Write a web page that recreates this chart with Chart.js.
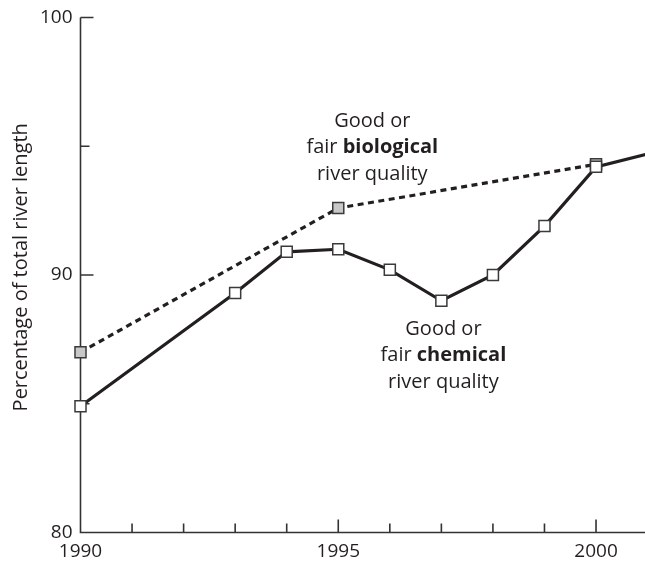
<!DOCTYPE html>
<html>
<head>
<meta charset="utf-8">
<script src="https://cdn.jsdelivr.net/npm/chart.js@4.4.1/dist/chart.umd.min.js"></script>
<style>
  html, body { margin: 0; padding: 0; background: #fff; }
  #divCanvas { width: 645px; height: 563px; }
</style>
</head>
<body>
<div id="divCanvas"><canvas id="graficoRios" width="645" height="563"></canvas></div>
<script>
// dados
var anosQuimica = [1990, 1993, 1994, 1995, 1996, 1997, 1998, 1999, 2000, 2001];
var valoresQuimica = [84.9, 89.3, 90.9, 91.0, 90.2, 89.0, 90.0, 91.9, 94.2, 94.7];
var anosBiologica = [1990, 1995, 2000];
var valoresBiologica = [87.0, 92.6, 94.3];

var yTicks = [80, 85, 90, 95, 100];
var yRotulos = [80, 90, 100];
var xTicks = [1990, 1991, 1992, 1993, 1994, 1995, 1996, 1997, 1998, 1999, 2000];
var xRotulos = [1990, 1995, 2000];

var tituloY = "Percentage of total river length";
var textoBiologica = [["Good or", ""], ["fair ", "biological"], ["river quality", ""]];
var textoQuimica = [["Good or", ""], ["fair ", "chemical"], ["river quality", ""]];

var fonte = "'Open Sans', sans-serif";
var corLinha = "#231f20";

function pontos(xs, ys) {
	var r = [];
	for (var i = 0; i < xs.length; i++) {
		r.push({x: xs[i], y: ys[i]});
	}
	return r;
}

// eixos com ticks para dentro
var eixosPlugin = {
	id: "eixos",
	beforeDatasetsDraw: function(chart) {
		var ctx = chart.ctx;
		var xs = chart.scales.x, ys = chart.scales.y;
		var a = chart.chartArea;
		ctx.save();
		ctx.strokeStyle = "#333";
		ctx.lineWidth = 1.6;
		ctx.beginPath();
		ctx.moveTo(a.left, a.top);
		ctx.lineTo(a.left, a.bottom);
		ctx.lineTo(chart.width, a.bottom);
		for (var i = 0; i < yTicks.length; i++) {
			var py = ys.getPixelForValue(yTicks[i]);
			var len = yTicks[i] % 10 === 0 ? 13 : 9;
			ctx.moveTo(a.left, py);
			ctx.lineTo(a.left + len, py);
		}
		for (var j = 0; j < xTicks.length; j++) {
			var px = xs.getPixelForValue(xTicks[j]);
			var l = xTicks[j] % 5 === 0 ? 13 : 9;
			ctx.moveTo(px, a.bottom);
			ctx.lineTo(px, a.bottom - l);
		}
		ctx.stroke();
		ctx.restore();
	},
	afterDraw: function(chart) {
		var ctx = chart.ctx;
		var xs = chart.scales.x, ys = chart.scales.y;
		ctx.save();
		ctx.fillStyle = corLinha;
		ctx.textBaseline = "middle";

		// titulo do eixo y
		ctx.save();
		ctx.translate(21, ys.getPixelForValue(90.3));
		ctx.rotate(-Math.PI / 2);
		ctx.textAlign = "center";
		ctx.font = "20px " + fonte;
		ctx.fillText(tituloY, 0, 0);
		ctx.restore();

		function bloco(linhas, cx, cy) {
			for (var k = 0; k < linhas.length; k++) {
				var y = cy + k * 26.7;
				ctx.font = "20px " + fonte;
				var w1 = ctx.measureText(linhas[k][0]).width;
				ctx.font = "bold 20px " + fonte;
				var w2 = ctx.measureText(linhas[k][1]).width;
				var x0 = cx - (w1 + w2) / 2;
				ctx.textAlign = "left";
				ctx.font = "20px " + fonte;
				ctx.fillText(linhas[k][0], x0, y);
				ctx.font = "bold 20px " + fonte;
				ctx.fillText(linhas[k][1], x0 + w1, y);
			}
		}
		bloco(textoBiologica, xs.getPixelForValue(1995.66), ys.getPixelForValue(95.98));
		bloco(textoQuimica, xs.getPixelForValue(1997.04), ys.getPixelForValue(87.9));
		ctx.restore();
	}
};

var raiosQuimica = [];
for (var i = 0; i < anosQuimica.length; i++) {
	raiosQuimica.push(anosQuimica[i] > 2000 ? 0 : 7.8);
}

var grafico = new Chart(document.getElementById("graficoRios"), {
	type: "line",
	data: {
		datasets: [
			{
				label: "chemical",
				data: pontos(anosQuimica, valoresQuimica),
				borderColor: corLinha,
				borderWidth: 3.2,
				pointStyle: "rect",
				pointRadius: raiosQuimica,
				pointBackgroundColor: "#fff",
				pointBorderColor: "#3a3a3a",
				pointBorderWidth: 1.5,
				tension: 0,
				clip: false
			},
			{
				label: "biological",
				data: pontos(anosBiologica, valoresBiologica),
				borderColor: corLinha,
				borderWidth: 3.2,
				borderDash: [6, 4.5],
				pointStyle: "rect",
				pointRadius: 7.8,
				pointBackgroundColor: "#c8c8c8",
				pointBorderColor: "#3a3a3a",
				pointBorderWidth: 1.5,
				tension: 0,
				clip: false
			}
		]
	},
	options: {
		responsive: false,
		animation: false,
		layout: { autoPadding: false, padding: { top: 17.5, right: 0, left: 0, bottom: 0 } },
		plugins: { legend: { display: false }, tooltip: { enabled: false } },
		scales: {
			x: {
				type: "linear",
				min: 1990,
				max: 2000.95,
				border: { display: false },
				grid: { display: false, drawTicks: false },
				ticks: {
					stepSize: 1,
					includeBounds: false,
					autoSkip: false,
					maxRotation: 0,
					padding: 8,
					color: corLinha,
					font: { family: fonte, size: 19 },
					callback: function(v) { return xRotulos.indexOf(v) >= 0 ? String(v) : ""; }
				},
				afterFit: function(s) { s.height = 30.5; s.paddingRight = 0; s.paddingLeft = 0; }
			},
			y: {
				min: 80,
				max: 100,
				border: { display: false },
				grid: { display: false, drawTicks: false },
				ticks: {
					stepSize: 5,
					autoSkip: false,
					padding: 8,
					color: corLinha,
					font: { family: fonte, size: 19 },
					callback: function(v) { return yRotulos.indexOf(v) >= 0 ? String(v) : ""; }
				},
				afterFit: function(s) { s.width = 80.5; s.paddingTop = 0; s.paddingBottom = 0; }
			}
		}
	},
	plugins: [eixosPlugin]
});
</script>
</body>
</html>
